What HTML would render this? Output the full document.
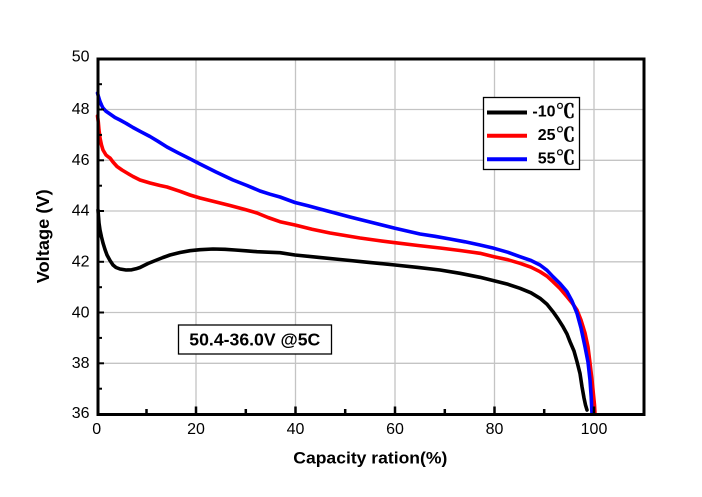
<!DOCTYPE html>
<html>
<head>
<meta charset="utf-8">
<style>
html,body{margin:0;padding:0;background:#fff;}
svg{display:block;}
</style>
</head>
<body>
<svg width="702" height="497" viewBox="0 0 702 497" xmlns="http://www.w3.org/2000/svg">
<rect x="0" y="0" width="702" height="497" fill="#fff"/>
<!-- grid -->
<g stroke="#c4c4c4" stroke-width="1.3">
<line x1="196" y1="59" x2="196" y2="414"/>
<line x1="295.5" y1="59" x2="295.5" y2="414"/>
<line x1="395" y1="59" x2="395" y2="414"/>
<line x1="494.5" y1="59" x2="494.5" y2="414"/>
<line x1="594" y1="59" x2="594" y2="414"/>
<line x1="98" y1="109.5" x2="644" y2="109.5"/>
<line x1="98" y1="160.3" x2="644" y2="160.3"/>
<line x1="98" y1="211" x2="644" y2="211"/>
<line x1="98" y1="261.8" x2="644" y2="261.8"/>
<line x1="98" y1="312.5" x2="644" y2="312.5"/>
<line x1="98" y1="363.3" x2="644" y2="363.3"/>
</g>
<!-- curves -->
<g fill="none" stroke-width="3.6" stroke-linejoin="round" stroke-linecap="round">
<polyline stroke="#000" points="98,210 99,223 100,230 101.5,237 103,243 105,249.5 107,255 110,260.5 113,265 116,267.5 120,269 126,270 131.7,269.8 136,268.8 140,267.5 148,263.5 156.7,260 163,257.5 170,255 180,252.5 190,250.7 200,249.7 213,249 225,249.3 235,250 246,250.8 257,251.7 268,252.2 280,252.7 295,255 318,257.3 340,259.5 368,262.3 395,265 418,267.4 440,270 460,273.3 480,277.3 494,280.7 508,284.3 520,288.3 531,292.8 540,298.3 547,304.3 553,311.7 558,318.8 563,326.7 567,334 570,341.7 574,351 577,361.7 580,373.5 582,386.7 584,398 585.5,405 587,410"/>
<polyline stroke="#f00" points="97.5,116 98.3,122 99,130 100,138 101.5,145 103,150 106,155 108.5,157 110,158 113,162 117,166.5 122,170 127,173 133,176.5 140,180 150,183 160,185.5 167,187 180,191.3 190,195 200,198 215,201.8 230,205.5 245,209.5 257,213 268,217.5 280,221.7 295,225 312,229.2 330,233 345,235.5 360,238 378,240.5 395,242.7 418,245.5 440,248 460,250.5 480,253.3 494,256.7 508,259.8 520,263.3 531,267.2 540,271.7 547,276.2 553,281.7 560,288.5 567,296.7 572,302.8 577,310 581,320 585,333 588,347 590,363 592,380 593.5,395 594.5,405 595,414"/>
<polyline stroke="#00f" points="97.5,93 98.3,96 100,101.5 101.5,105 103,108 106,111.3 110,114 115,117.5 120,120 126,123.3 133,127.5 141,131.8 150,136.5 158,141.3 167,147 178,152.8 190,158.8 200,164 216,172 233,180 247,185.5 260,191 270,194.2 280,197 295,202.5 308,205.8 320,209 335,213 350,217 372,222.5 395,228.3 408,231.2 420,234 435,236.3 450,239 465,241.8 480,245 494,248.3 508,252.3 520,256.7 531,260.5 540,265 547,270.3 553,276.7 560,283.5 567,291.7 572,301 577,313.3 581,328 585,346.7 588,362 590,380 591.2,397 592,414"/>
</g>
<!-- axes frame -->
<rect x="98" y="59" width="546" height="355.5" fill="none" stroke="#000" stroke-width="3"/>
<!-- left ticks -->
<g stroke="#000" stroke-width="2">
<line x1="98" y1="109.5" x2="104" y2="109.5"/>
<line x1="98" y1="160.3" x2="104" y2="160.3"/>
<line x1="98" y1="211" x2="104" y2="211"/>
<line x1="98" y1="261.8" x2="104" y2="261.8"/>
<line x1="98" y1="312.5" x2="104" y2="312.5"/>
<line x1="98" y1="363.3" x2="104" y2="363.3"/>
<line x1="98" y1="84.2" x2="102" y2="84.2"/>
<line x1="98" y1="134.9" x2="102" y2="134.9"/>
<line x1="98" y1="185.7" x2="102" y2="185.7"/>
<line x1="98" y1="236.4" x2="102" y2="236.4"/>
<line x1="98" y1="287.2" x2="102" y2="287.2"/>
<line x1="98" y1="337.9" x2="102" y2="337.9"/>
<line x1="98" y1="388.7" x2="102" y2="388.7"/>
</g>
<!-- bottom ticks -->
<g stroke="#000" stroke-width="2.5">
<line x1="196" y1="414" x2="196" y2="406.5"/>
<line x1="295.5" y1="414" x2="295.5" y2="406.5"/>
<line x1="395" y1="414" x2="395" y2="406.5"/>
<line x1="494.5" y1="414" x2="494.5" y2="406.5"/>
<line x1="594" y1="414" x2="594" y2="406.5"/>
<line x1="146.5" y1="414" x2="146.5" y2="409"/>
<line x1="245.8" y1="414" x2="245.8" y2="409"/>
<line x1="345.2" y1="414" x2="345.2" y2="409"/>
<line x1="444.8" y1="414" x2="444.8" y2="409"/>
<line x1="544.2" y1="414" x2="544.2" y2="409"/>
</g>
<!-- y tick labels -->
<g font-family="Liberation Sans, Arial, sans-serif" font-size="16" fill="#000" text-anchor="end">
<text x="89.5" y="61.7">50</text>
<text x="89.5" y="114">48</text>
<text x="89.5" y="164.8">46</text>
<text x="89.5" y="215.7">44</text>
<text x="89.5" y="266.3">42</text>
<text x="89.5" y="317.3">40</text>
<text x="89.5" y="367.8">38</text>
<text x="89.5" y="418">36</text>
</g>
<!-- x tick labels -->
<g font-family="Liberation Sans, Arial, sans-serif" font-size="16" fill="#000" text-anchor="middle">
<text x="96.7" y="434">0</text>
<text x="196" y="434">20</text>
<text x="295.5" y="434">40</text>
<text x="395" y="434">60</text>
<text x="494.5" y="434">80</text>
<text x="594" y="434">100</text>
</g>
<!-- axis titles -->
<text x="293.3" y="463.3" font-family="Liberation Sans, Arial, sans-serif" font-size="17" font-weight="bold" textLength="154" lengthAdjust="spacingAndGlyphs">Capacity ration(%)</text>
<text transform="translate(49,283.3) rotate(-90)" x="0" y="0" font-family="Liberation Sans, Arial, sans-serif" font-size="17.5" font-weight="bold" textLength="94" lengthAdjust="spacingAndGlyphs">Voltage (V)</text>
<!-- annotation box -->
<rect x="178.5" y="325" width="153" height="29" fill="#fff" stroke="#000" stroke-width="1.3"/>
<text x="189.3" y="345.7" font-family="Liberation Sans, Arial, sans-serif" font-size="17.5" font-weight="bold" textLength="131" lengthAdjust="spacingAndGlyphs">50.4-36.0V @5C</text>
<!-- legend -->
<rect x="483.5" y="97.5" width="96" height="72" fill="#fff" stroke="#000" stroke-width="1.3"/>
<g stroke-width="4">
<line x1="487" y1="112.5" x2="527" y2="112.5" stroke="#000"/>
<line x1="487" y1="135.8" x2="527" y2="135.8" stroke="#f00"/>
<line x1="487" y1="159.3" x2="527" y2="159.3" stroke="#00f"/>
</g>
<g font-family="Liberation Sans, Arial, sans-serif" font-size="16" font-weight="bold" fill="#000" text-anchor="end">
<text x="555.5" y="116.7">-10</text>
<text x="555.5" y="140">25</text>
<text x="555.5" y="163.3">55</text>
</g>
<g font-family="Noto Serif CJK SC, Noto Sans CJK SC, sans-serif" font-size="19" font-weight="bold" fill="#000" stroke="#000" stroke-width="0.4">
<text x="556" y="117.5">℃</text>
<text x="556" y="140.8">℃</text>
<text x="556" y="164.1">℃</text>
</g>
</svg>
</body>
</html>
